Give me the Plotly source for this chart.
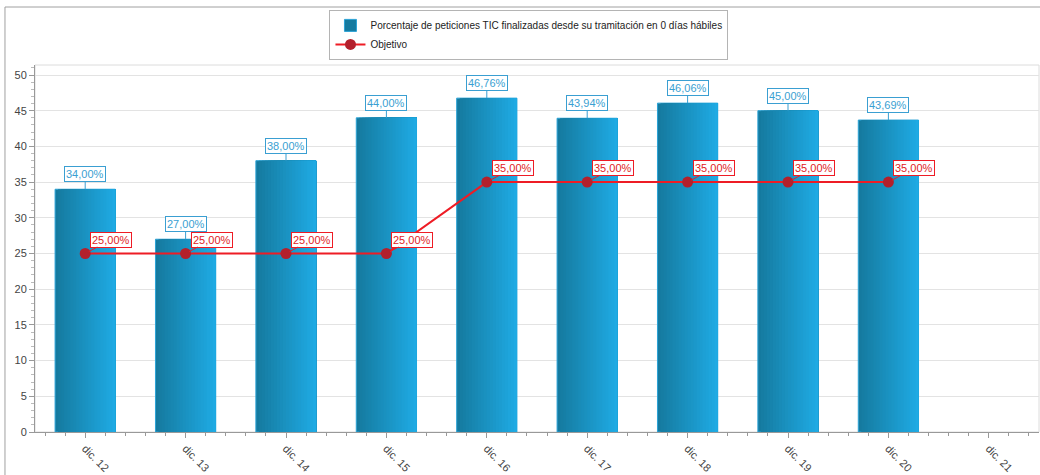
import plotly.graph_objects as go

categories = ["dic. 12", "dic. 13", "dic. 14", "dic. 15", "dic. 16",
              "dic. 17", "dic. 18", "dic. 19", "dic. 20", "dic. 21"]
porcentaje = [34.00, 27.00, 38.00, 44.00, 46.76, 43.94, 46.06, 45.00, 43.69, None]
objetivo = [25.00, 25.00, 25.00, 25.00, 35.00, 35.00, 35.00, 35.00, 35.00, None]

name_bar = "Porcentaje de peticiones TIC finalizadas desde su tramitación en 0 días hábiles"
name_line = "Objetivo"

FONT = "Liberation Sans, Arial, sans-serif"
x_idx = list(range(len(categories)))

def fmt(v):
    return f"{v:.2f}".replace(".", ",") + "%"

def lerp(c0, c1, t):
    a = [int(c0[i:i + 2], 16) for i in (1, 3, 5)]
    b = [int(c1[i:i + 2], 16) for i in (1, 3, 5)]
    return "#" + "".join(f"{round(a[i] + (b[i] - a[i]) * t):02x}" for i in range(3))

fig = go.Figure()

# stepped horizontal gradient for bars
BW = 0.6
N = 20
c_dark, c_light = "#157a9f", "#1faae3"
for k in range(N):
    w = BW - k * BW / N
    fig.add_trace(go.Bar(
        x=x_idx, y=porcentaje, width=w, offset=-BW / 2 + k * BW / N,
        marker=dict(color=lerp(c_dark, c_light, k / (N - 1)),
                    line=dict(width=1 if k == 0 else 0, color="#2ba3d6")),
        name=name_bar, showlegend=(k == 0), legendgroup="bar",
        hoverinfo="skip"))

fig.add_trace(go.Scatter(
    x=x_idx, y=objetivo, mode="lines+markers", name=name_line,
    line=dict(color="#ee1c25", width=2),
    marker=dict(color="#b3202c", size=11, line=dict(width=0)),
    hoverinfo="skip"))

annotations = []
for i, v in enumerate(porcentaje):
    if v is None:
        continue
    annotations.append(dict(
        x=i, y=v, xref="x", yref="y", text=fmt(v), showarrow=True,
        arrowhead=0, arrowwidth=1, arrowcolor="#3a9fd2", ax=0, ay=-15,
        font=dict(family=FONT, size=11, color="#3a9fd2"),
        bgcolor="white", bordercolor="#3a9fd2", borderwidth=1, borderpad=1))
for i, v in enumerate(objetivo):
    if v is None:
        continue
    annotations.append(dict(
        x=i, y=v, xref="x", yref="y", text=fmt(v), showarrow=True,
        arrowhead=0, arrowwidth=1, arrowcolor="#ee1c25", ax=26, ay=-14,
        standoff=4,
        font=dict(family=FONT, size=11, color="#e01b24"),
        bgcolor="white", bordercolor="#ee1c25", borderwidth=1, borderpad=1))

fig.update_layout(
    width=1040, height=475,
    margin=dict(l=35, r=1, t=65, b=43),
    paper_bgcolor="white", plot_bgcolor="white",
    barmode="overlay", bargap=0.4,
    font=dict(family=FONT, size=11, color="#333333"),
    annotations=annotations,
    legend=dict(x=0.492, y=1.082, xanchor="center", yanchor="middle",
                bordercolor="#b4b4b4", borderwidth=1, bgcolor="white",
                font=dict(family=FONT, size=10, color="#222222"),
                tracegroupgap=0, itemwidth=30),
    shapes=[
        dict(type="rect", xref="paper", yref="paper", x0=0, x1=1, y0=0, y1=1,
             line=dict(color="#dcdcdc", width=1), layer="below"),
        dict(type="rect", xref="paper", yref="paper", x0=-0.0299, x1=1.2,
             y0=-0.3, y1=1.158, line=dict(color="#a0a0a0", width=1), layer="below"),
    ],
    xaxis=dict(range=[-0.5, 9.5], tickmode="array", tickvals=x_idx, ticktext=categories,
               tickangle=45, showgrid=False, zeroline=False,
               showline=True, linecolor="#999999", linewidth=1,
               ticks="outside", ticklen=5, tickcolor="#999999",
               minor=dict(ticks="outside", ticklen=3, tickcolor="#999999",
                          tick0=0, dtick=0.2, showgrid=False),
               tickfont=dict(family=FONT, size=11, color="#444444")),
    yaxis=dict(range=[0, 51.4], tick0=0, dtick=5, showgrid=True, gridcolor="#e3e3e3",
               zeroline=False, showline=True, linecolor="#999999", linewidth=1,
               ticks="outside", ticklen=5, tickcolor="#999999",
               minor=dict(ticks="outside", ticklen=3, tickcolor="#bbbbbb",
                          dtick=1, showgrid=False),
               tickfont=dict(family=FONT, size=11, color="#444444")),
)

fig.write_html("out.html")
